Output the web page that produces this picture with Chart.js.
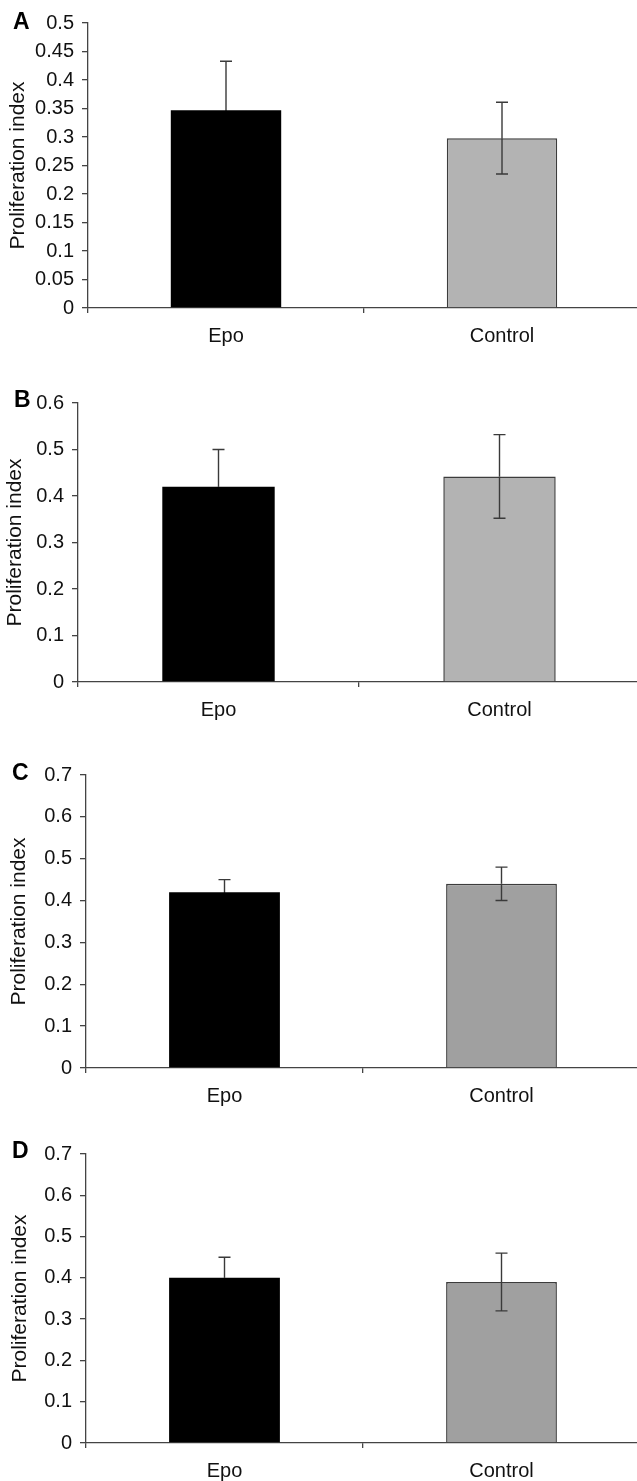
<!DOCTYPE html>
<html>
<head>
<meta charset="utf-8">
<script src="https://cdn.jsdelivr.net/npm/chart.js@4/dist/chart.umd.min.js"></script>
<style>
  body { margin: 0; background: #fff; width: 637px; height: 1481px; overflow: hidden; position: relative; }
  .panel { position: absolute; left: 0; width: 642px; }
</style>
</head>
<body>
<div class="panel" id="wrapA"><canvas id="chartA"></canvas></div>
<div class="panel" id="wrapB"><canvas id="chartB"></canvas></div>
<div class="panel" id="wrapC"><canvas id="chartC"></canvas></div>
<div class="panel" id="wrapD"><canvas id="chartD"></canvas></div>
<script>
const groups = ['Epo', 'Control'];

const meanA = [0.347, 0.298];
const errA = [0.086, 0.063];
const meanB = [0.42, 0.442];
const errB = [0.08, 0.09];
const meanC = [0.42, 0.44];
const errC = [0.03, 0.04];
const meanD = [0.40, 0.39];
const errD = [0.05, 0.07];

const ticksA = [0, 0.05, 0.1, 0.15, 0.2, 0.25, 0.3, 0.35, 0.4, 0.45, 0.5];
const tickLabelsA = ['0', '0.05', '0.1', '0.15', '0.2', '0.25', '0.3', '0.35', '0.4', '0.45', '0.5'];
const ticksB = [0, 0.1, 0.2, 0.3, 0.4, 0.5, 0.6];
const tickLabelsB = ['0', '0.1', '0.2', '0.3', '0.4', '0.5', '0.6'];
const ticksCD = [0, 0.1, 0.2, 0.3, 0.4, 0.5, 0.6, 0.7];
const tickLabelsCD = ['0', '0.1', '0.2', '0.3', '0.4', '0.5', '0.6', '0.7'];

const FONT = '"Liberation Sans", Arial, sans-serif';
const AXIS = '#444';
const PAD_TOP = 20;
const XAXIS_H = 45;
const BAR_FILL = '#000000';

function makePanel(letter, means, errs, tickVals, tickLabels, controlColor, g) {
  const wrap = document.getElementById('wrap' + letter);
  wrap.style.top = (g.top - PAD_TOP) + 'px';
  wrap.style.height = (g.bottom - g.top + PAD_TOP + XAXIS_H) + 'px';
  const fills = [BAR_FILL, controlColor];

  const errorBars = {
    id: 'errorBars' + letter,
    afterDatasetsDraw(chart) {
      const { ctx } = chart;
      const y = chart.scales.y;
      const meta = chart.getDatasetMeta(0);
      ctx.save();
      ctx.lineWidth = 1.4;
      meta.data.forEach((bar, i) => {
        const mid = y.getPixelForValue(means[i]);
        const hi = y.getPixelForValue(means[i] + errs[i]);
        const lo = y.getPixelForValue(means[i] - errs[i]);
        // upper whisker
        ctx.strokeStyle = '#3a3a3a';
        ctx.beginPath();
        ctx.moveTo(bar.x, hi); ctx.lineTo(bar.x, mid);
        ctx.moveTo(bar.x - 6, hi); ctx.lineTo(bar.x + 6, hi);
        ctx.stroke();
        // lower whisker, lost in a black bar
        ctx.strokeStyle = fills[i] === BAR_FILL ? BAR_FILL : '#3a3a3a';
        ctx.beginPath();
        ctx.moveTo(bar.x, mid); ctx.lineTo(bar.x, lo);
        ctx.moveTo(bar.x - 6, lo); ctx.lineTo(bar.x + 6, lo);
        ctx.stroke();
      });
      ctx.restore();
    }
  };

  const panelLetter = {
    id: 'letter' + letter,
    afterDraw(chart) {
      const { ctx } = chart;
      ctx.save();
      ctx.font = 'bold 23px ' + FONT;
      ctx.fillStyle = '#000';
      ctx.textBaseline = 'alphabetic';
      ctx.fillText(letter, g.letterX, chart.chartArea.top + g.letterDy);
      ctx.restore();
    }
  };

  new Chart(document.getElementById('chart' + letter), {
    type: 'bar',
    data: {
      labels: groups,
      datasets: [{
        data: means,
        backgroundColor: fills,
        borderColor: [BAR_FILL, '#3c3c3c'],
        borderWidth: [0, 1.5],
        categoryPercentage: 1,
        barPercentage: 0.4
      }]
    },
    options: {
      responsive: true,
      maintainAspectRatio: false,
      animation: false,
      layout: { padding: { top: PAD_TOP, right: 2, left: 0, bottom: 0 } },
      plugins: { legend: { display: false }, tooltip: { enabled: false } },
      scales: {
        x: {
          grid: { drawOnChartArea: false, tickLength: 5, color: AXIS, lineWidth: 1.3, offset: true },
          border: { color: AXIS, width: 1.3 },
          ticks: { color: '#111', font: { size: 20, family: FONT }, padding: 11 },
          afterFit: s => { s.height = XAXIS_H; }
        },
        y: {
          min: 0,
          max: tickVals[tickVals.length - 1],
          afterBuildTicks: s => { s.ticks = tickVals.map(v => ({ value: v })); },
          grid: { drawOnChartArea: false, tickLength: 6, color: AXIS, lineWidth: 1.3 },
          border: { color: AXIS, width: 1.3 },
          ticks: {
            color: '#111',
            font: { size: 20, family: FONT },
            padding: 8,
            callback: (v, i) => tickLabels[i]
          },
          title: {
            display: true,
            text: 'Proliferation index',
            color: '#111',
            font: { size: 21, family: FONT },
            padding: { top: g.titlePad, bottom: 0 }
          },
          afterFit: s => { s.width = g.axisX; }
        }
      }
    },
    plugins: [errorBars, panelLetter]
  });
}

makePanel('A', meanA, errA, ticksA, tickLabelsA, '#b3b3b3',
  { axisX: 88, top: 23, bottom: 308, titlePad: 6, letterX: 13, letterDy: 6 });
makePanel('B', meanB, errB, ticksB, tickLabelsB, '#b3b3b3',
  { axisX: 78, top: 403, bottom: 682, titlePad: 3, letterX: 14, letterDy: 4 });
makePanel('C', meanC, errC, ticksCD, tickLabelsCD, '#a0a0a0',
  { axisX: 86, top: 775, bottom: 1068, titlePad: 7, letterX: 12, letterDy: 5 });
makePanel('D', meanD, errD, ticksCD, tickLabelsCD, '#a0a0a0',
  { axisX: 86, top: 1154, bottom: 1443, titlePad: 8, letterX: 12, letterDy: 4 });
</script>
</body>
</html>
